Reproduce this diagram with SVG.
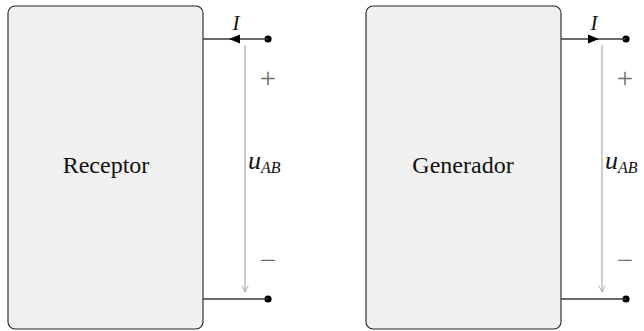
<svg xmlns="http://www.w3.org/2000/svg" width="644" height="331" viewBox="0 0 644 331">
<style>
.box{fill:#f0f0f0;stroke:#222;stroke-width:1.1}
.wire{stroke:#3a3a3a;stroke-width:1.3;fill:none}
.volt{stroke:#9a9a9a;stroke-width:1;fill:none}
.lbl{font-family:"Liberation Serif","DejaVu Serif",serif;font-size:24px;fill:#111}
.it{font-family:"Liberation Serif","DejaVu Serif",serif;font-style:italic;fill:#111}
.sign{font-family:"Liberation Serif","DejaVu Serif",serif;font-size:29px;fill:#707070}
</style>
<defs>
<marker id="open" viewBox="0 0 10 10" refX="9" refY="5" markerWidth="8" markerHeight="8" markerUnits="userSpaceOnUse" orient="auto">
<path d="M1,1 L9,5 L1,9" fill="none" stroke="#9a9a9a" stroke-width="1"/>
</marker>
</defs>
<g id="receptor">
<rect class="box" x="8" y="6" width="195" height="323" rx="7"/>
<text class="lbl" x="106" y="173" text-anchor="middle">Receptor</text>
</g>
<g id="generador">
<rect class="box" x="366" y="6" width="195" height="323" rx="7"/>
<text class="lbl" x="463" y="173" text-anchor="middle">Generador</text>
</g>
<g id="terminals">
<circle cx="268" cy="39" r="3.6" fill="#000"/>
<circle cx="268" cy="299" r="3.6" fill="#000"/>
<circle cx="626" cy="39" r="3.6" fill="#000"/>
<circle cx="626" cy="299" r="3.6" fill="#000"/>
</g>
<g id="connectors">
<line class="wire" x1="203" y1="39" x2="268" y2="39"/>
<line class="wire" x1="203" y1="299" x2="268" y2="299"/>
<polygon points="229,39 240,34.5 240,43.5" fill="#000"/>
<line class="wire" x1="561" y1="39" x2="626" y2="39"/>
<line class="wire" x1="561" y1="299" x2="626" y2="299"/>
<polygon points="599,39 588,34.5 588,43.5" fill="#000"/>
<line class="volt" x1="245" y1="45" x2="245" y2="292" marker-end="url(#open)"/>
<line class="volt" x1="602" y1="45" x2="602" y2="292" marker-end="url(#open)"/>
</g>
<g id="labels">
<text class="it" x="236" y="30" font-size="21" text-anchor="middle">I</text>
<text class="it" x="594" y="30" font-size="21" text-anchor="middle">I</text>
<text class="sign" x="268" y="88" text-anchor="middle">+</text>
<text class="sign" x="625" y="88" text-anchor="middle">+</text>
<text class="sign" x="268" y="270" text-anchor="middle">−</text>
<text class="sign" x="625" y="270" text-anchor="middle">−</text>
<text class="it" x="248" y="169" font-size="26">u<tspan font-size="16" dy="4">AB</tspan></text>
<text class="it" x="605" y="169" font-size="26">u<tspan font-size="16" dy="4">AB</tspan></text>
</g>
</svg>
